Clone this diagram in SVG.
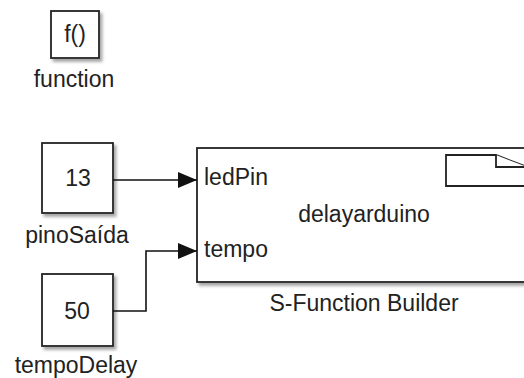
<svg xmlns="http://www.w3.org/2000/svg" width="524" height="378" viewBox="0 0 524 378">
  <defs>
    <filter id="shadow" x="-10%" y="-10%" width="130%" height="130%">
      <feDropShadow dx="2.5" dy="3" stdDeviation="1.5" flood-color="#808080" flood-opacity="0.7"/>
    </filter>
    <marker id="arrow" markerWidth="19" markerHeight="16" refX="19" refY="8" orient="auto" markerUnits="userSpaceOnUse">
      <path d="M0,0 L19,8 L0,16 Z" fill="#111"/>
    </marker>
  </defs>
  <style>
    .blk { fill: #fff; stroke: #222; stroke-width: 1.8; filter: url(#shadow); }
    .txt { font-family: "Liberation Sans", Arial, sans-serif; font-size: 23px; fill: #222; }
    .mid { text-anchor: middle; }
    .wire { fill: none; stroke: #111; stroke-width: 1.6; }
    .icon { fill: #fff; stroke: #222; stroke-width: 1.8; }
  </style>

  <rect width="524" height="378" fill="#fff"/>

  <!-- Simulink Function block -->
  <g id="function">
    <rect class="blk" x="51" y="11" width="48" height="47"/>
    <text class="txt mid" x="75" y="42">f()</text>
    <text class="txt mid" x="74" y="87">function</text>
  </g>

  <!-- Constant: pinoSaida -->
  <g id="pinoSaida">
    <rect class="blk" x="42" y="143" width="71" height="70"/>
    <text class="txt mid" x="78" y="186">13</text>
    <text class="txt mid" x="77" y="243">pinoSaída</text>
  </g>

  <!-- Constant: tempoDelay -->
  <g id="tempoDelay">
    <rect class="blk" x="42" y="274" width="71" height="72"/>
    <text class="txt mid" x="77" y="319">50</text>
    <text class="txt mid" x="76" y="373">tempoDelay</text>
  </g>

  <!-- S-Function Builder block -->
  <g id="sfunction">
    <rect class="blk" x="197" y="148" width="334" height="134"/>
    <text class="txt" x="204" y="185">ledPin</text>
    <text class="txt" x="204" y="257">tempo</text>
    <text class="txt mid" x="364" y="222">delayarduino</text>
    <path class="icon" d="M446,155 L496,155 L527,167 L527,186 L446,186 Z"/>
    <path class="icon" d="M496,155 L496,167 L527,167"/>
    <text class="txt mid" x="364" y="311">S-Function Builder</text>
  </g>

  <!-- Signal lines -->
  <g id="connectors">
    <path class="wire" d="M113,180 L197,180" marker-end="url(#arrow)"/>
    <path class="wire" d="M113,311 L146,311 L146,251 L197,251" marker-end="url(#arrow)"/>
  </g>
</svg>
